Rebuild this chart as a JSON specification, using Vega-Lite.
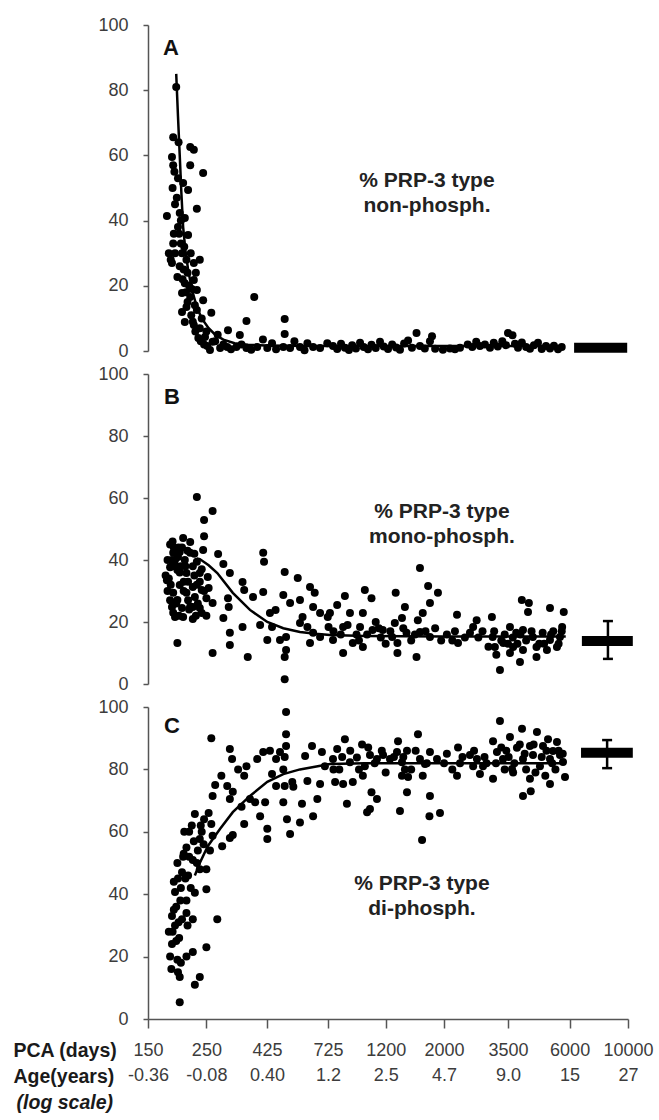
{
  "$schema": "https://vega.github.io/schema/vega-lite/v6.json",
  "background": "white",
  "padding": {"left": 13, "top": 16, "right": 4, "bottom": 4},
  "bounds": "flush",
  "spacing": 23,
  "config": {
    "view": {"stroke": null},
    "axis": {"labelFont": "Liberation Sans", "labelFontSize": 18, "labelColor": "#3c3c3c", "domainColor": "#555", "domainWidth": 1.5, "tickColor": "#555", "tickWidth": 1.5, "grid": false, "titleFont": "Liberation Sans"},
    "axisY": {"tickSize": 5, "labelPadding": 15},
    "axisX": {"tickSize": 9, "labelPadding": 13}
  },
  "datasets": {
    "A": [
      {"d":192,"v":81},{"d":187,"v":65.6},{"d":185,"v":59.5},{"d":187,"v":57},{"d":217,"v":62.6},{"d":224,"v":61.7},{"d":217,"v":57},{"d":243,"v":54.6},{"d":195,"v":53},{"d":204,"v":51.5},{"d":213,"v":49.4},{"d":177,"v":41.4},{"d":198,"v":42.3},{"d":207,"v":40.8},{"d":230,"v":43.6},{"d":213,"v":35.6},{"d":187,"v":33},{"d":190,"v":30},{"d":185,"v":27},{"d":202,"v":30},{"d":210,"v":28},{"d":236,"v":28},{"d":224,"v":27},{"d":194,"v":22.7},{"d":207,"v":20.8},{"d":224,"v":21.8},{"d":230,"v":18.7},{"d":202,"v":17.8},{"d":217,"v":16.6},{"d":243,"v":15.6},{"d":210,"v":13.5},{"d":230,"v":12.6},{"d":261,"v":11.7},{"d":380,"v":16.6},{"d":207,"v":8.9},{"d":224,"v":8},{"d":236,"v":7},{"d":355,"v":9.2},{"d":496,"v":9.8},{"d":496,"v":5.2},{"d":302,"v":6.4},{"d":335,"v":4.9},{"d":247,"v":4.3},{"d":264,"v":2.8},{"d":258,"v":0.3},{"d":282,"v":0.9},{"d":300,"v":1.2},{"d":325,"v":1.2},{"d":355,"v":0.9},{"d":390,"v":1.2},{"d":426,"v":0.9},{"d":444,"v":2.4},{"d":490,"v":1.2},{"d":520,"v":0.9},{"d":567,"v":1.2},{"d":605,"v":2.4},{"d":636,"v":1.2},{"d":676,"v":0.9},{"d":720,"v":2.4},
      {"d":190,"v":45},{"d":195,"v":38},{"d":200,"v":33},{"d":205,"v":25},{"d":212,"v":24},{"d":218,"v":30},{"d":220,"v":19},{"d":228,"v":24},{"d":198,"v":26},{"d":188,"v":36},{"d":183,"v":28},{"d":226,"v":14},{"d":240,"v":10},{"d":250,"v":6},{"d":270,"v":3},{"d":276,"v":5},{"d":290,"v":2},{"d":310,"v":0.5},{"d":340,"v":2},{"d":370,"v":0.4},{"d":410,"v":3.5},{"d":460,"v":0.5},{"d":540,"v":3},{"d":590,"v":0.2},
      {"d":186,"v":50},{"d":189,"v":55},{"d":193,"v":47},{"d":197,"v":36},{"d":200,"v":40},{"d":203,"v":22},{"d":206,"v":32},{"d":209,"v":18},{"d":212,"v":15},{"d":215,"v":20},{"d":219,"v":11},{"d":222,"v":9},{"d":227,"v":6},{"d":233,"v":4},{"d":238,"v":3},{"d":245,"v":2},{"d":252,"v":1.5},{"d":180,"v":30},{"d":196,"v":64},{"d":202,"v":12},
      {"d":757,"v":1.5},{"d":785,"v":0.6},{"d":812,"v":2.2},{"d":840,"v":1},{"d":870,"v":0.3},{"d":895,"v":1.8},{"d":925,"v":0.8},{"d":959,"v":2.5},{"d":990,"v":1.2},{"d":1028,"v":0.5},{"d":1060,"v":1.9},{"d":1100,"v":0.9},{"d":1142,"v":2.8},{"d":1180,"v":1.4},{"d":1225,"v":0.6},{"d":1270,"v":2},{"d":1315,"v":1.1},{"d":1360,"v":0.4},{"d":1410,"v":2.3},{"d":1460,"v":3.2},{"d":1510,"v":1},{"d":1572,"v":5.5},{"d":1620,"v":1.5},{"d":1690,"v":0.8},{"d":1768,"v":3},{"d":1800,"v":4.5},{"d":1850,"v":0.7},{"d":1980,"v":0.4},{"d":2106,"v":0.8},{"d":2200,"v":0.5},{"d":2299,"v":1},{"d":2460,"v":2},{"d":2560,"v":1.2},{"d":2650,"v":2.8},{"d":2738,"v":1.5},{"d":2860,"v":2},{"d":2989,"v":1},{"d":3090,"v":2.5},{"d":3200,"v":1.4},{"d":3330,"v":3},{"d":3440,"v":1.8},{"d":3500,"v":5.5},{"d":3640,"v":4.8},{"d":3720,"v":2.2},{"d":3820,"v":1},{"d":3950,"v":2.6},{"d":4100,"v":1.2},{"d":4241,"v":0.7},{"d":4390,"v":1.8},{"d":4550,"v":2.5},{"d":4700,"v":0.6},{"d":4880,"v":1.5},{"d":5053,"v":0.8},{"d":5230,"v":1.6},{"d":5420,"v":0.5},{"d":5600,"v":1.2}
    ],
    "B": [
      {"d":230,"v":60.3},{"d":264,"v":55.8},{"d":245,"v":52.9},{"d":245,"v":47.7},{"d":204,"v":47.1},{"d":217,"v":45.8},{"d":243,"v":43.2},{"d":187,"v":42.3},{"d":198,"v":42.6},{"d":217,"v":42.3},{"d":190,"v":40},{"d":207,"v":40},{"d":230,"v":39.4},{"d":277,"v":41.9},{"d":290,"v":38.7},{"d":307,"v":35.8},{"d":182,"v":37.7},{"d":194,"v":36.8},{"d":210,"v":35.8},{"d":236,"v":35.8},{"d":253,"v":34.5},{"d":177,"v":33.5},{"d":198,"v":31.9},{"d":222,"v":31.3},{"d":240,"v":30.3},{"d":187,"v":29.4},{"d":210,"v":29.4},{"d":226,"v":28.1},{"d":250,"v":27.7},{"d":194,"v":27.1},{"d":185,"v":24.8},{"d":202,"v":24.5},{"d":222,"v":24.8},{"d":236,"v":24.5},{"d":264,"v":26.1},{"d":190,"v":21.6},{"d":204,"v":21.6},{"d":222,"v":21},{"d":240,"v":22.9},{"d":194,"v":13.2},{"d":264,"v":10},{"d":290,"v":21.3},{"d":304,"v":24.8},{"d":302,"v":27.7},{"d":307,"v":16.5},{"d":307,"v":12.6},{"d":343,"v":32.9},{"d":348,"v":30.3},{"d":376,"v":28.1},{"d":343,"v":18.4},{"d":359,"v":8.7},{"d":411,"v":42.3},{"d":414,"v":39.4},{"d":411,"v":29.7},{"d":400,"v":19},{"d":436,"v":22.9},{"d":444,"v":18.4},{"d":458,"v":23.9},{"d":426,"v":14.2},{"d":476,"v":14.2},{"d":496,"v":36.1},{"d":490,"v":28.7},{"d":520,"v":26.1},{"d":556,"v":34.2},{"d":567,"v":27.1},{"d":580,"v":21.6},{"d":502,"v":15.2},{"d":502,"v":11},{"d":496,"v":8.7},{"d":496,"v":1.5},{"d":619,"v":31.3},{"d":645,"v":29.4},{"d":636,"v":24.8},{"d":676,"v":22.9},{"d":567,"v":19.7},{"d":605,"v":18.4},{"d":636,"v":16.5},{"d":619,"v":13.2},{"d":676,"v":15.2},{"d":728,"v":18.4},{"d":723,"v":21.6},
      {"d":180,"v":34},{"d":185,"v":38},{"d":200,"v":38},{"d":213,"v":33},{"d":178,"v":30},{"d":192,"v":26},{"d":215,"v":24},{"d":225,"v":35},{"d":205,"v":30},{"d":196,"v":44},{"d":186,"v":46},{"d":182,"v":27},{"d":175,"v":35},{"d":230,"v":32},
      {"d":182,"v":45},{"d":185,"v":40},{"d":188,"v":44},{"d":192,"v":38},{"d":195,"v":41},{"d":198,"v":36},{"d":202,"v":44},{"d":205,"v":33},{"d":208,"v":38},{"d":213,"v":27},{"d":217,"v":25},{"d":222,"v":38},{"d":225,"v":42},{"d":228,"v":22},{"d":232,"v":26},{"d":236,"v":33},{"d":240,"v":37},{"d":245,"v":30},{"d":250,"v":22},{"d":255,"v":31},{"d":183,"v":32},{"d":187,"v":23},{"d":197,"v":22},{"d":212,"v":43},{"d":178,"v":40},
      {"d":1620,"v":37.4},{"d":1740,"v":31.6},{"d":1896,"v":29.4},{"d":1768,"v":26.1},{"d":1660,"v":22.9},{"d":1590,"v":20.6},{"d":1572,"v":8.7},{"d":1310,"v":29.4},{"d":1420,"v":24.8},{"d":1384,"v":21.3},{"d":1300,"v":19.7},{"d":1000,"v":30.3},{"d":1060,"v":27.7},{"d":840,"v":28.4},{"d":983,"v":22.9},{"d":785,"v":25.5},{"d":737,"v":22.9},{"d":878,"v":22.9},{"d":827,"v":18.4},{"d":959,"v":18.4},{"d":1070,"v":17.4},{"d":1170,"v":17.4},{"d":1270,"v":15.2},{"d":1440,"v":16.5},{"d":1620,"v":16.8},{"d":1768,"v":15.2},{"d":757,"v":14.2},{"d":827,"v":10},{"d":900,"v":13.2},{"d":983,"v":11.9},{"d":1330,"v":13.2},{"d":1330,"v":10},{"d":2240,"v":22.3},{"d":2260,"v":13.2},{"d":2580,"v":18.4},{"d":2660,"v":20.6},{"d":2509,"v":16.5},{"d":3040,"v":21.6},{"d":3060,"v":15.2},{"d":3120,"v":11.9},{"d":3160,"v":9.4},{"d":3262,"v":4.5},{"d":3950,"v":27.1},{"d":4200,"v":26.1},{"d":4170,"v":23.2},{"d":5053,"v":24.5},{"d":5700,"v":23.2},{"d":5620,"v":18.4},{"d":3560,"v":18.4},{"d":3760,"v":16.5},{"d":3990,"v":17.4},{"d":4350,"v":15.2},{"d":4740,"v":16.5},{"d":5053,"v":14.2},{"d":5514,"v":15.2},{"d":3360,"v":13.2},{"d":3660,"v":11.9},{"d":3990,"v":11},{"d":4490,"v":11.9},{"d":4920,"v":11},{"d":5370,"v":11.9},{"d":3560,"v":10},{"d":3886,"v":7.1},{"d":4490,"v":8.7},
      {"d":2050,"v":16},{"d":2150,"v":14},{"d":2400,"v":15},{"d":2800,"v":17},{"d":2950,"v":12},{"d":3400,"v":16},{"d":4600,"v":13},{"d":5200,"v":17},{"d":1150,"v":15},{"d":1500,"v":14},{"d":1850,"v":18},{"d":930,"v":16},{"d":1100,"v":20},{"d":1200,"v":13},
      {"d":760,"v":17},{"d":810,"v":16},{"d":860,"v":19},{"d":950,"v":14},{"d":1020,"v":16},{"d":1130,"v":18},{"d":1250,"v":17},{"d":1400,"v":18},{"d":1550,"v":16},{"d":1700,"v":17},{"d":1950,"v":14},{"d":2200,"v":17},{"d":2700,"v":15},{"d":3100,"v":17},{"d":3300,"v":14},{"d":3650,"v":15},{"d":3800,"v":13},{"d":4100,"v":14},{"d":4300,"v":17},{"d":4800,"v":13},{"d":5100,"v":16},{"d":5450,"v":13},{"d":5600,"v":17},{"d":3500,"v":13},{"d":3900,"v":16}
    ],
    "C": [
      {"d":198,"v":5.4},{"d":185,"v":24},{"d":194,"v":19},{"d":195,"v":15},{"d":198,"v":13.5},{"d":226,"v":11},{"d":236,"v":13.5},{"d":250,"v":23},{"d":210,"v":20},{"d":222,"v":21.5},{"d":190,"v":30},{"d":202,"v":32},{"d":210,"v":34},{"d":222,"v":32},{"d":275,"v":32},{"d":190,"v":40.7},{"d":195,"v":45},{"d":213,"v":46},{"d":210,"v":38},{"d":226,"v":40.5},{"d":250,"v":41.6},{"d":236,"v":48},{"d":250,"v":48},{"d":222,"v":51},{"d":210,"v":55},{"d":224,"v":57},{"d":236,"v":57.7},{"d":226,"v":65.7},{"d":245,"v":64},{"d":261,"v":62.5},{"d":264,"v":58.7},{"d":258,"v":54},{"d":287,"v":55.4},{"d":307,"v":58},{"d":315,"v":59},{"d":264,"v":71.5},{"d":261,"v":90},{"d":307,"v":86.5},{"d":313,"v":83.3},{"d":300,"v":74.7},{"d":315,"v":72.8},{"d":307,"v":70.5},{"d":348,"v":62.5},{"d":348,"v":78},{"d":355,"v":81},{"d":390,"v":83.3},{"d":366,"v":70.5},{"d":383,"v":69.5},{"d":400,"v":65},{"d":418,"v":69.5},{"d":426,"v":61},{"d":426,"v":57.7},{"d":411,"v":85.6},{"d":436,"v":86},{"d":460,"v":83.3},{"d":476,"v":85.6},{"d":444,"v":78.5},{"d":460,"v":74.7},{"d":502,"v":98.4},{"d":502,"v":91.3},{"d":502,"v":87.5},{"d":496,"v":84},{"d":490,"v":80},{"d":496,"v":74.7},{"d":490,"v":69.5},{"d":506,"v":64},{"d":520,"v":59.3},{"d":530,"v":76},{"d":535,"v":74.4},{"d":567,"v":63},{"d":577,"v":69},{"d":593,"v":84.3},{"d":605,"v":76.3},{"d":630,"v":87.5},{"d":636,"v":65},{"d":660,"v":70.5},{"d":676,"v":75.3},{"d":687,"v":85.6},{"d":705,"v":81},
      {"d":180,"v":28},{"d":188,"v":35},{"d":192,"v":25},{"d":200,"v":42},{"d":204,"v":52},{"d":215,"v":60},{"d":200,"v":18},{"d":185,"v":33},{"d":230,"v":50},{"d":240,"v":60},{"d":255,"v":66},{"d":270,"v":75},{"d":285,"v":78},{"d":330,"v":80},{"d":340,"v":68},
      {"d":182,"v":20},{"d":186,"v":28},{"d":188,"v":44},{"d":192,"v":36},{"d":194,"v":50},{"d":197,"v":26},{"d":199,"v":38},{"d":202,"v":47},{"d":205,"v":53},{"d":208,"v":45},{"d":212,"v":30},{"d":215,"v":52},{"d":218,"v":42},{"d":220,"v":62},{"d":232,"v":54},{"d":238,"v":62},{"d":244,"v":56},{"d":196,"v":31},{"d":184,"v":16},{"d":206,"v":60},
      {"d":757,"v":83.3},{"d":785,"v":86.5},{"d":840,"v":89.7},{"d":878,"v":82.3},{"d":933,"v":83.8},{"d":976,"v":88},{"d":1046,"v":84.6},{"d":1112,"v":83.3},{"d":1173,"v":84.6},{"d":1246,"v":83.3},{"d":1325,"v":85.6},{"d":1337,"v":89},{"d":1384,"v":82.3},{"d":1446,"v":86},{"d":1592,"v":91.3},{"d":1620,"v":83.3},{"d":1693,"v":81.7},{"d":1768,"v":85.6},{"d":1880,"v":83.3},{"d":2260,"v":87},{"d":2509,"v":84.6},{"d":2667,"v":83.3},{"d":2812,"v":81},{"d":3070,"v":89},{"d":3177,"v":85.6},{"d":3262,"v":95.5},{"d":3350,"v":83.3},{"d":3560,"v":90.4},{"d":3624,"v":80.1},{"d":3784,"v":86.9},{"d":3956,"v":93},{"d":3990,"v":83.3},{"d":4241,"v":87.5},{"d":4355,"v":84.6},{"d":4508,"v":92},{"d":4629,"v":81},{"d":4753,"v":87.5},{"d":4967,"v":89.7},{"d":5053,"v":83.3},{"d":5189,"v":85.9},{"d":5371,"v":88.8},{"d":5514,"v":84.6},{"d":5662,"v":82.4},
      {"d":771,"v":76},{"d":827,"v":75.3},{"d":900,"v":76},{"d":983,"v":78},{"d":1060,"v":72.7},{"d":1112,"v":70.5},{"d":855,"v":69},{"d":1020,"v":66.3},{"d":1046,"v":67.3},{"d":1360,"v":66.7},{"d":1446,"v":72.7},{"d":1384,"v":78},{"d":1460,"v":77.6},{"d":1660,"v":78},{"d":1768,"v":71.5},{"d":1760,"v":65},{"d":1930,"v":66},{"d":1650,"v":57.4},{"d":2240,"v":78},{"d":2580,"v":81},{"d":2738,"v":78.5},{"d":3070,"v":77},{"d":3660,"v":79},{"d":4241,"v":77},{"d":3990,"v":71.5},{"d":4270,"v":73},{"d":5053,"v":75.3},{"d":5762,"v":77.6},
      {"d":2000,"v":82},{"d":2150,"v":80},{"d":2350,"v":84},{"d":2900,"v":82},{"d":3400,"v":80},{"d":3450,"v":86},{"d":4100,"v":80},{"d":4450,"v":79},{"d":4850,"v":78},{"d":5300,"v":80},{"d":1500,"v":80},{"d":1400,"v":84},{"d":1000,"v":81},{"d":1200,"v":79},{"d":800,"v":80},
      {"d":760,"v":80},{"d":820,"v":84},{"d":880,"v":86},{"d":950,"v":80},{"d":1030,"v":87},{"d":1090,"v":82},{"d":1160,"v":86},{"d":1290,"v":84},{"d":1420,"v":80},{"d":1560,"v":86},{"d":1720,"v":82},{"d":2050,"v":85},{"d":2300,"v":82},{"d":2600,"v":86},{"d":2850,"v":84},{"d":3150,"v":82},{"d":3300,"v":87},{"d":3520,"v":84},{"d":3700,"v":82},{"d":3880,"v":88},{"d":4050,"v":85},{"d":4380,"v":88},{"d":4700,"v":84},{"d":4900,"v":86},{"d":5150,"v":82},{"d":5450,"v":86},{"d":5650,"v":85}
    ],
    "fitA": [{"d":192,"v":85},{"d":195,"v":72},{"d":198,"v":60},{"d":201,"v":48},{"d":204,"v":38},{"d":208,"v":31},{"d":213,"v":25},{"d":220,"v":19},{"d":230,"v":13.5},{"d":240,"v":10},{"d":255,"v":7},{"d":270,"v":5},{"d":290,"v":3.5},{"d":320,"v":2.4},{"d":360,"v":1.9},{"d":420,"v":1.7},{"d":600,"v":1.5},{"d":5500,"v":1.5}],
    "fitB": [{"d":230,"v":40.5},{"d":236,"v":40.3},{"d":255,"v":38.3},{"d":275,"v":35.8},{"d":315,"v":29.4},{"d":366,"v":23.9},{"d":426,"v":20},{"d":490,"v":18},{"d":567,"v":16.8},{"d":650,"v":16.2},{"d":737,"v":15.8},{"d":1000,"v":15.5},{"d":2000,"v":15.3},{"d":5800,"v":15.3}],
    "fitC": [{"d":226,"v":46},{"d":236,"v":50},{"d":253,"v":55.4},{"d":282,"v":61},{"d":315,"v":66.3},{"d":366,"v":71.5},{"d":426,"v":76},{"d":490,"v":78.5},{"d":567,"v":80},{"d":737,"v":81.7},{"d":1000,"v":82},{"d":2000,"v":82},{"d":5660,"v":82}],
    "bars": [
      {"p":"A","d":6240,"v":1},{"p":"A","d":9930,"v":1},
      {"p":"B","d":6680,"v":13.9},{"p":"B","d":10430,"v":13.9},
      {"p":"C","d":6630,"v":85.3},{"p":"C","d":10430,"v":85.3}
    ],
    "err": [
      {"p":"B","d":8390,"v":8.1,"v2":20.3},
      {"p":"C","d":8330,"v":80.4,"v2":89.4}
    ],
    "caps": [
      {"p":"B","d":8390,"v":8.1},{"p":"B","d":8390,"v":20.3},
      {"p":"C","d":8330,"v":80.4},{"p":"C","d":8330,"v":89.4}
    ],
    "letters": [
      {"p":"A","d":183.5,"v":93,"t":"A"},
      {"p":"B","d":185,"v":92.6,"t":"B"},
      {"p":"C","d":185,"v":94,"t":"C"}
    ],
    "notes": [
      {"p":"A","d":1722,"v":52.3,"t":"% PRP-3 type\nnon-phosph."},
      {"p":"B","d":1963,"v":55.4,"t":"% PRP-3 type\nmono-phosph."},
      {"p":"C","d":1648,"v":43.4,"t":"% PRP-3 type\ndi-phosph."}
    ],
    "scaleNote": [
      {"d":47.5,"v":-26.9,"t":"(log scale)"}
    ]
  },
  "vconcat": [
    {
      "width": 480, "height": 326,
      "layer": [
        {"data": {"name": "A"}, "mark": {"type": "circle", "size": 64, "color": "#000", "opacity": 1},
         "encoding": {
           "x": {"field": "d", "type": "quantitative", "scale": {"type": "log", "domain": [150, 10000], "nice": false}, "axis": null},
           "y": {"field": "v", "type": "quantitative", "scale": {"domain": [0, 100], "nice": false}, "axis": {"values": [0, 20, 40, 60, 80, 100], "title": null}}}},
        {"data": {"name": "fitA"}, "mark": {"type": "line", "color": "#000", "strokeWidth": 2.5},
         "encoding": {"x": {"field": "d", "type": "quantitative", "axis": null}, "y": {"field": "v", "type": "quantitative", "axis": {"title": null}}}},
        {"data": {"name": "bars"}, "transform": [{"filter": "datum.p === 'A'"}], "mark": {"type": "line", "strokeWidth": 10, "strokeCap": "butt", "color": "#000"},
         "encoding": {"x": {"field": "d", "type": "quantitative", "axis": null}, "y": {"field": "v", "type": "quantitative", "axis": {"title": null}}}},
        {"data": {"name": "letters"}, "transform": [{"filter": "datum.p === 'A'"}], "mark": {"type": "text", "font": "Liberation Sans", "fontWeight": "bold", "fontSize": 22, "align": "center", "baseline": "middle", "color": "#111"},
         "encoding": {"x": {"field": "d", "type": "quantitative", "axis": null}, "y": {"field": "v", "type": "quantitative", "axis": {"title": null}}, "text": {"field": "t"}}},
        {"data": {"name": "notes"}, "transform": [{"filter": "datum.p === 'A'"}], "mark": {"type": "text", "font": "Liberation Sans", "fontWeight": "bold", "fontSize": 21, "lineHeight": 25, "lineBreak": "\n", "align": "center", "baseline": "middle", "color": "#222"},
         "encoding": {"x": {"field": "d", "type": "quantitative", "axis": null}, "y": {"field": "v", "type": "quantitative", "axis": {"title": null}}, "text": {"field": "t"}}}
      ]
    },
    {
      "width": 480, "height": 310,
      "layer": [
        {"data": {"name": "B"}, "mark": {"type": "circle", "size": 64, "color": "#000", "opacity": 1},
         "encoding": {
           "x": {"field": "d", "type": "quantitative", "scale": {"type": "log", "domain": [150, 10000], "nice": false}, "axis": null},
           "y": {"field": "v", "type": "quantitative", "scale": {"domain": [0, 100], "nice": false}, "axis": {"values": [0, 20, 40, 60, 80, 100], "title": null}}}},
        {"data": {"name": "fitB"}, "mark": {"type": "line", "color": "#000", "strokeWidth": 2.5},
         "encoding": {"x": {"field": "d", "type": "quantitative", "axis": null}, "y": {"field": "v", "type": "quantitative", "axis": {"title": null}}}},
        {"data": {"name": "bars"}, "transform": [{"filter": "datum.p === 'B'"}], "mark": {"type": "line", "strokeWidth": 10, "strokeCap": "butt", "color": "#000"},
         "encoding": {"x": {"field": "d", "type": "quantitative", "axis": null}, "y": {"field": "v", "type": "quantitative", "axis": {"title": null}}}},
        {"data": {"name": "err"}, "transform": [{"filter": "datum.p === 'B'"}], "mark": {"type": "rule", "strokeWidth": 2.5, "color": "#000"},
         "encoding": {"x": {"field": "d", "type": "quantitative", "axis": null}, "y": {"field": "v", "type": "quantitative", "axis": {"title": null}}, "y2": {"field": "v2"}}},
        {"data": {"name": "caps"}, "transform": [{"filter": "datum.p === 'B'"}], "mark": {"type": "tick", "orient": "horizontal", "size": 10, "thickness": 2.5, "color": "#000", "opacity": 1},
         "encoding": {"x": {"field": "d", "type": "quantitative", "axis": null}, "y": {"field": "v", "type": "quantitative", "axis": {"title": null}}}},
        {"data": {"name": "letters"}, "transform": [{"filter": "datum.p === 'B'"}], "mark": {"type": "text", "font": "Liberation Sans", "fontWeight": "bold", "fontSize": 22, "align": "center", "baseline": "middle", "color": "#111"},
         "encoding": {"x": {"field": "d", "type": "quantitative", "axis": null}, "y": {"field": "v", "type": "quantitative", "axis": {"title": null}}, "text": {"field": "t"}}},
        {"data": {"name": "notes"}, "transform": [{"filter": "datum.p === 'B'"}], "mark": {"type": "text", "font": "Liberation Sans", "fontWeight": "bold", "fontSize": 21, "lineHeight": 25, "lineBreak": "\n", "align": "center", "baseline": "middle", "color": "#222"},
         "encoding": {"x": {"field": "d", "type": "quantitative", "axis": null}, "y": {"field": "v", "type": "quantitative", "axis": {"title": null}}, "text": {"field": "t"}}}
      ]
    },
    {
      "width": 480, "height": 312,
      "layer": [
        {"data": {"name": "C"}, "mark": {"type": "circle", "size": 64, "color": "#000", "opacity": 1},
         "encoding": {
           "x": {"field": "d", "type": "quantitative", "scale": {"type": "log", "domain": [150, 10000], "nice": false},
                 "axis": {"values": [150, 250, 425, 725, 1200, 2000, 3500, 6000, 10000], "labelOverlap": false, "labelFlush": false, "labelLineHeight": 25,
                          "labelExpr": "[format(datum.value, 'd'), datum.value == 150 ? '-0.36' : datum.value == 250 ? '-0.08' : datum.value == 425 ? '0.40' : datum.value == 725 ? '1.2' : datum.value == 1200 ? '2.5' : datum.value == 2000 ? '4.7' : datum.value == 3500 ? '9.0' : datum.value == 6000 ? '15' : '27']",
                          "title": ["PCA (days)", "Age(years)"], "titleFontWeight": "bold", "titleFontSize": 19.5, "titleColor": "#1a1a1a", "titleAlign": "left", "titleAnchor": "start", "titleBaseline": "top", "titleX": -135, "titleY": 22, "titleLineHeight": 26}},
           "y": {"field": "v", "type": "quantitative", "scale": {"domain": [0, 100], "nice": false}, "axis": {"values": [0, 20, 40, 60, 80, 100], "title": null}}}},
        {"data": {"name": "fitC"}, "mark": {"type": "line", "color": "#000", "strokeWidth": 2.5},
         "encoding": {"x": {"field": "d", "type": "quantitative"}, "y": {"field": "v", "type": "quantitative", "axis": {"title": null}}}},
        {"data": {"name": "bars"}, "transform": [{"filter": "datum.p === 'C'"}], "mark": {"type": "line", "strokeWidth": 10, "strokeCap": "butt", "color": "#000"},
         "encoding": {"x": {"field": "d", "type": "quantitative"}, "y": {"field": "v", "type": "quantitative", "axis": {"title": null}}}},
        {"data": {"name": "err"}, "transform": [{"filter": "datum.p === 'C'"}], "mark": {"type": "rule", "strokeWidth": 2.5, "color": "#000"},
         "encoding": {"x": {"field": "d", "type": "quantitative"}, "y": {"field": "v", "type": "quantitative", "axis": {"title": null}}, "y2": {"field": "v2"}}},
        {"data": {"name": "caps"}, "transform": [{"filter": "datum.p === 'C'"}], "mark": {"type": "tick", "orient": "horizontal", "size": 10, "thickness": 2.5, "color": "#000", "opacity": 1},
         "encoding": {"x": {"field": "d", "type": "quantitative"}, "y": {"field": "v", "type": "quantitative", "axis": {"title": null}}}},
        {"data": {"name": "letters"}, "transform": [{"filter": "datum.p === 'C'"}], "mark": {"type": "text", "font": "Liberation Sans", "fontWeight": "bold", "fontSize": 22, "align": "center", "baseline": "middle", "color": "#111"},
         "encoding": {"x": {"field": "d", "type": "quantitative"}, "y": {"field": "v", "type": "quantitative", "axis": {"title": null}}, "text": {"field": "t"}}},
        {"data": {"name": "notes"}, "transform": [{"filter": "datum.p === 'C'"}], "mark": {"type": "text", "font": "Liberation Sans", "fontWeight": "bold", "fontSize": 21, "lineHeight": 25, "lineBreak": "\n", "align": "center", "baseline": "middle", "color": "#222"},
         "encoding": {"x": {"field": "d", "type": "quantitative"}, "y": {"field": "v", "type": "quantitative", "axis": {"title": null}}, "text": {"field": "t"}}},
        {"data": {"name": "scaleNote"}, "mark": {"type": "text", "font": "Liberation Sans", "fontWeight": "bold", "fontStyle": "italic", "fontSize": 19.5, "align": "left", "baseline": "middle", "color": "#1a1a1a"},
         "encoding": {"x": {"field": "d", "type": "quantitative"}, "y": {"field": "v", "type": "quantitative", "axis": {"title": null}}, "text": {"field": "t"}}}
      ]
    }
  ]
}
